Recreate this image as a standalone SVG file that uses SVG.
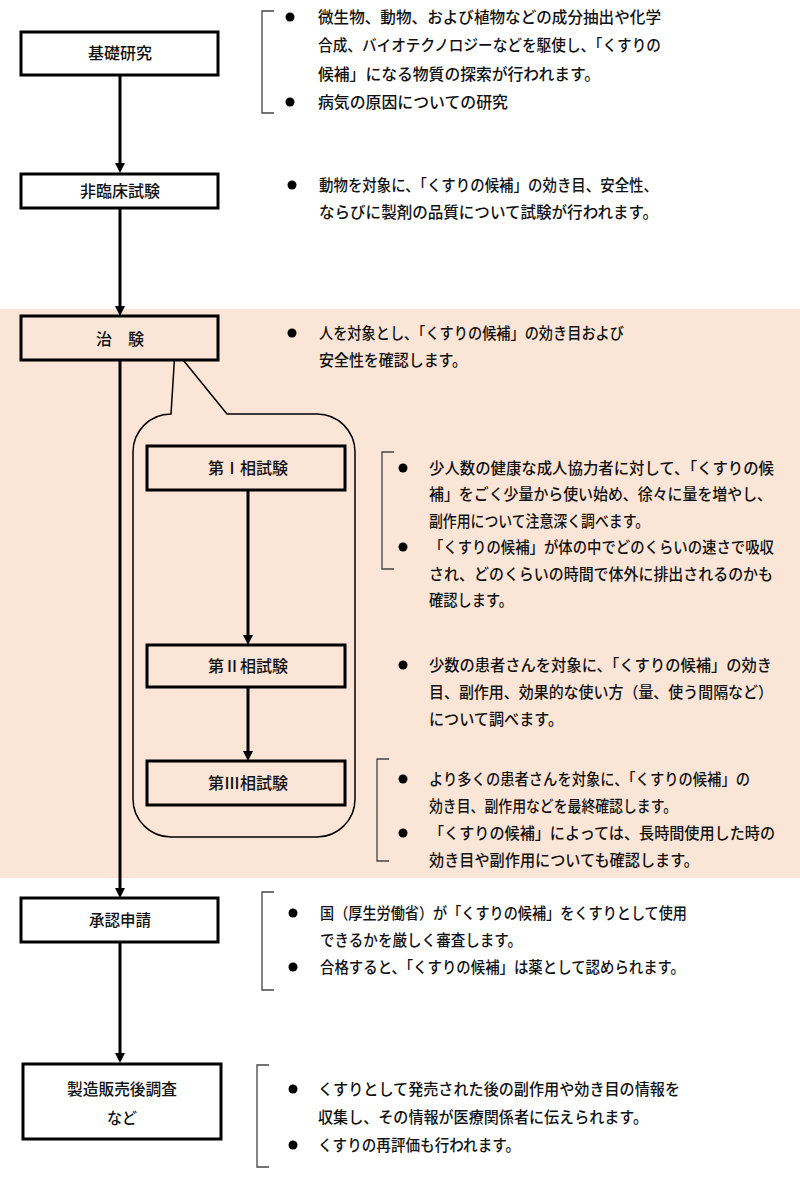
<svg xmlns="http://www.w3.org/2000/svg" width="800" height="1202" viewBox="0 0 800 1202">
<style>
text{font-family:"Noto Sans CJK JP","Noto Sans",sans-serif;fill:#111;font-weight:500;}
.t{font-size:15.5px;}
.c{font-size:15.5px;}
.lbl{font-size:16px;text-anchor:middle;}
.box{fill:#fff;stroke:#000;stroke-width:3;}
.pbox{fill:#FBE5D6;stroke:#000;stroke-width:3;}
.br{fill:none;stroke:#444;stroke-width:1.3;}
.arr{stroke:#000;stroke-width:3;fill:none;marker-end:url(#ah);}
.bul{fill:#000;}
</style>
<defs>
<marker id="ah" viewBox="0 0 10 10" refX="2" refY="5" markerWidth="10" markerHeight="10" markerUnits="userSpaceOnUse" orient="auto"><path d="M0,0 L10,5 L0,10 z" fill="#000"/></marker>
</defs>
<rect x="0" y="0" width="800" height="1202" fill="#fff"/>
<rect x="0" y="309" width="800" height="569" fill="#FBE5D6"/>

<g id="callout">
<path d="M175,350 L227,414 L317,414 A38,38 0 0 1 355,452 L355,799 A38,38 0 0 1 317,837 L171,837 A38,38 0 0 1 133,799 L133,452 A38,38 0 0 1 171,414 Z" fill="#FBE5D6" stroke="#000" stroke-width="1.5" stroke-linejoin="miter"/>
</g>

<g id="connectors">
<line class="arr" x1="120" y1="75" x2="120" y2="165"/>
<line class="arr" x1="120" y1="208" x2="120" y2="308"/>
<line class="arr" x1="120" y1="360" x2="120" y2="890"/>
<line class="arr" x1="120" y1="942" x2="120" y2="1055"/>
<line class="arr" x1="248" y1="490" x2="248" y2="637"/>
<line class="arr" x1="248" y1="687" x2="248" y2="753"/>
</g>

<g id="node-kiso">
<rect class="box" x="21" y="32" width="197" height="43"/>
<text class="lbl" x="120" y="59">基礎研究</text>
</g>
<g id="node-hirinsho">
<rect class="box" x="21" y="174" width="197" height="34"/>
<text class="lbl" x="120" y="197">非臨床試験</text>
</g>
<g id="node-chiken">
<rect class="pbox" x="21" y="316" width="197" height="44"/>
<text class="lbl" x="120" y="345">治　験</text>
</g>
<g id="node-phase1">
<rect class="pbox" x="147" y="446" width="198" height="44"/>
<text class="lbl" x="248" y="474">第Ⅰ相試験</text>
</g>
<g id="node-phase2">
<rect class="pbox" x="147" y="645" width="198" height="42"/>
<text class="lbl" x="248" y="672">第Ⅱ相試験</text>
</g>
<g id="node-phase3">
<rect class="pbox" x="147" y="761" width="198" height="44"/>
<text class="lbl" x="248" y="789">第Ⅲ相試験</text>
</g>
<g id="node-shonin">
<rect class="box" x="21" y="898" width="197" height="44"/>
<text class="lbl" x="120" y="926" textLength="62" lengthAdjust="spacingAndGlyphs">承認申請</text>
</g>
<g id="node-seizo">
<rect class="box" x="23" y="1064" width="198" height="75"/>
<text class="lbl" x="122" y="1095" textLength="110" lengthAdjust="spacingAndGlyphs">製造販売後調査</text>
<text class="lbl" x="122" y="1124" textLength="30" lengthAdjust="spacingAndGlyphs">など</text>
</g>

<g id="desc-kiso">
<path class="br" d="M274,11 H262 V113 H274"/>
<circle class="bul" cx="290" cy="17" r="4.5"/>
<circle class="bul" cx="290" cy="102" r="4.5"/>
<text class="t" x="318" y="22.5" textLength="343" lengthAdjust="spacingAndGlyphs">微生物、動物、および植物などの成分抽出や化学</text>
<text class="t" x="318" y="51" textLength="343" lengthAdjust="spacingAndGlyphs">合成、バイオテクノロジーなどを駆使し、「くすりの</text>
<text class="t" x="318" y="79.5" textLength="282" lengthAdjust="spacingAndGlyphs">候補」になる物質の探索が行われます。</text>
<text class="t" x="318" y="108" textLength="190" lengthAdjust="spacingAndGlyphs">病気の原因についての研究</text>
</g>

<g id="desc-hirinsho">
<circle class="bul" cx="292" cy="185" r="4.5"/>
<text class="t" x="319" y="190.5" textLength="339" lengthAdjust="spacingAndGlyphs">動物を対象に、「くすりの候補」の効き目、安全性、</text>
<text class="t" x="319" y="217.5" textLength="339" lengthAdjust="spacingAndGlyphs">ならびに製剤の品質について試験が行われます。</text>
</g>

<g id="desc-chiken">
<circle class="bul" cx="292" cy="333" r="4.5"/>
<text class="t" x="319" y="338.5" textLength="305" lengthAdjust="spacingAndGlyphs">人を対象とし、「くすりの候補」の効き目および</text>
<text class="t" x="319" y="365.5" textLength="148" lengthAdjust="spacingAndGlyphs">安全性を確認します。</text>
</g>

<g id="desc-phase1">
<path class="br" d="M394,452 H382 V569 H394"/>
<circle class="bul" cx="403" cy="468" r="4.5"/>
<circle class="bul" cx="403" cy="547" r="4.5"/>
<text class="t" x="429" y="473.5" textLength="345" lengthAdjust="spacingAndGlyphs">少人数の健康な成人協力者に対して、「くすりの候</text>
<text class="t" x="429" y="500" textLength="343" lengthAdjust="spacingAndGlyphs">補」をごく少量から使い始め、徐々に量を増やし、</text>
<text class="t" x="429" y="526.5" textLength="220" lengthAdjust="spacingAndGlyphs">副作用について注意深く調べます。</text>
<text class="t" x="429" y="553" textLength="345" lengthAdjust="spacingAndGlyphs">「くすりの候補」が体の中でどのくらいの速さで吸収</text>
<text class="t" x="429" y="579.5" textLength="344" lengthAdjust="spacingAndGlyphs">され、どのくらいの時間で体外に排出されるのかも</text>
<text class="t" x="429" y="606" textLength="84" lengthAdjust="spacingAndGlyphs">確認します。</text>
</g>

<g id="desc-phase2">
<circle class="bul" cx="403" cy="665" r="4.5"/>
<text class="t" x="429" y="670.5" textLength="343" lengthAdjust="spacingAndGlyphs">少数の患者さんを対象に、「くすりの候補」の効き</text>
<text class="t" x="429" y="697.5" textLength="344" lengthAdjust="spacingAndGlyphs">目、副作用、効果的な使い方（量、使う間隔など）</text>
<text class="t" x="429" y="724.5" textLength="134" lengthAdjust="spacingAndGlyphs">について調べます。</text>
</g>

<g id="desc-phase3">
<path class="br" d="M389,759 H377 V861 H389"/>
<circle class="bul" cx="403" cy="779" r="4.5"/>
<circle class="bul" cx="403" cy="833" r="4.5"/>
<text class="t" x="429" y="784.5" textLength="321" lengthAdjust="spacingAndGlyphs">より多くの患者さんを対象に、「くすりの候補」の</text>
<text class="t" x="429" y="811.5" textLength="248" lengthAdjust="spacingAndGlyphs">効き目、副作用などを最終確認します。</text>
<text class="t" x="429" y="838.5" textLength="346" lengthAdjust="spacingAndGlyphs">「くすりの候補」によっては、長時間使用した時の</text>
<text class="t" x="429" y="865.5" textLength="270" lengthAdjust="spacingAndGlyphs">効き目や副作用についても確認します。</text>
</g>

<g id="desc-shonin">
<path class="br" d="M274,892 H262 V990 H274"/>
<circle class="bul" cx="293" cy="913" r="4.5"/>
<circle class="bul" cx="293" cy="967" r="4.5"/>
<text class="c" x="320" y="918.5" textLength="367" lengthAdjust="spacingAndGlyphs">国（厚生労働省）が「くすりの候補」をくすりとして使用</text>
<text class="c" x="320" y="945.5" textLength="202" lengthAdjust="spacingAndGlyphs">できるかを厳しく審査します。</text>
<text class="c" x="320" y="972.5" textLength="365" lengthAdjust="spacingAndGlyphs">合格すると、「くすりの候補」は薬として認められます。</text>
</g>

<g id="desc-seizo">
<path class="br" d="M269,1065 H257 V1167 H269"/>
<circle class="bul" cx="293" cy="1089" r="4.5"/>
<circle class="bul" cx="293" cy="1145" r="4.5"/>
<text class="c" x="318" y="1094.5" textLength="362" lengthAdjust="spacingAndGlyphs">くすりとして発売された後の副作用や効き目の情報を</text>
<text class="c" x="318" y="1122.5" textLength="330" lengthAdjust="spacingAndGlyphs">収集し、その情報が医療関係者に伝えられます。</text>
<text class="c" x="318" y="1150.5" textLength="202" lengthAdjust="spacingAndGlyphs">くすりの再評価も行われます。</text>
</g>
</svg>
